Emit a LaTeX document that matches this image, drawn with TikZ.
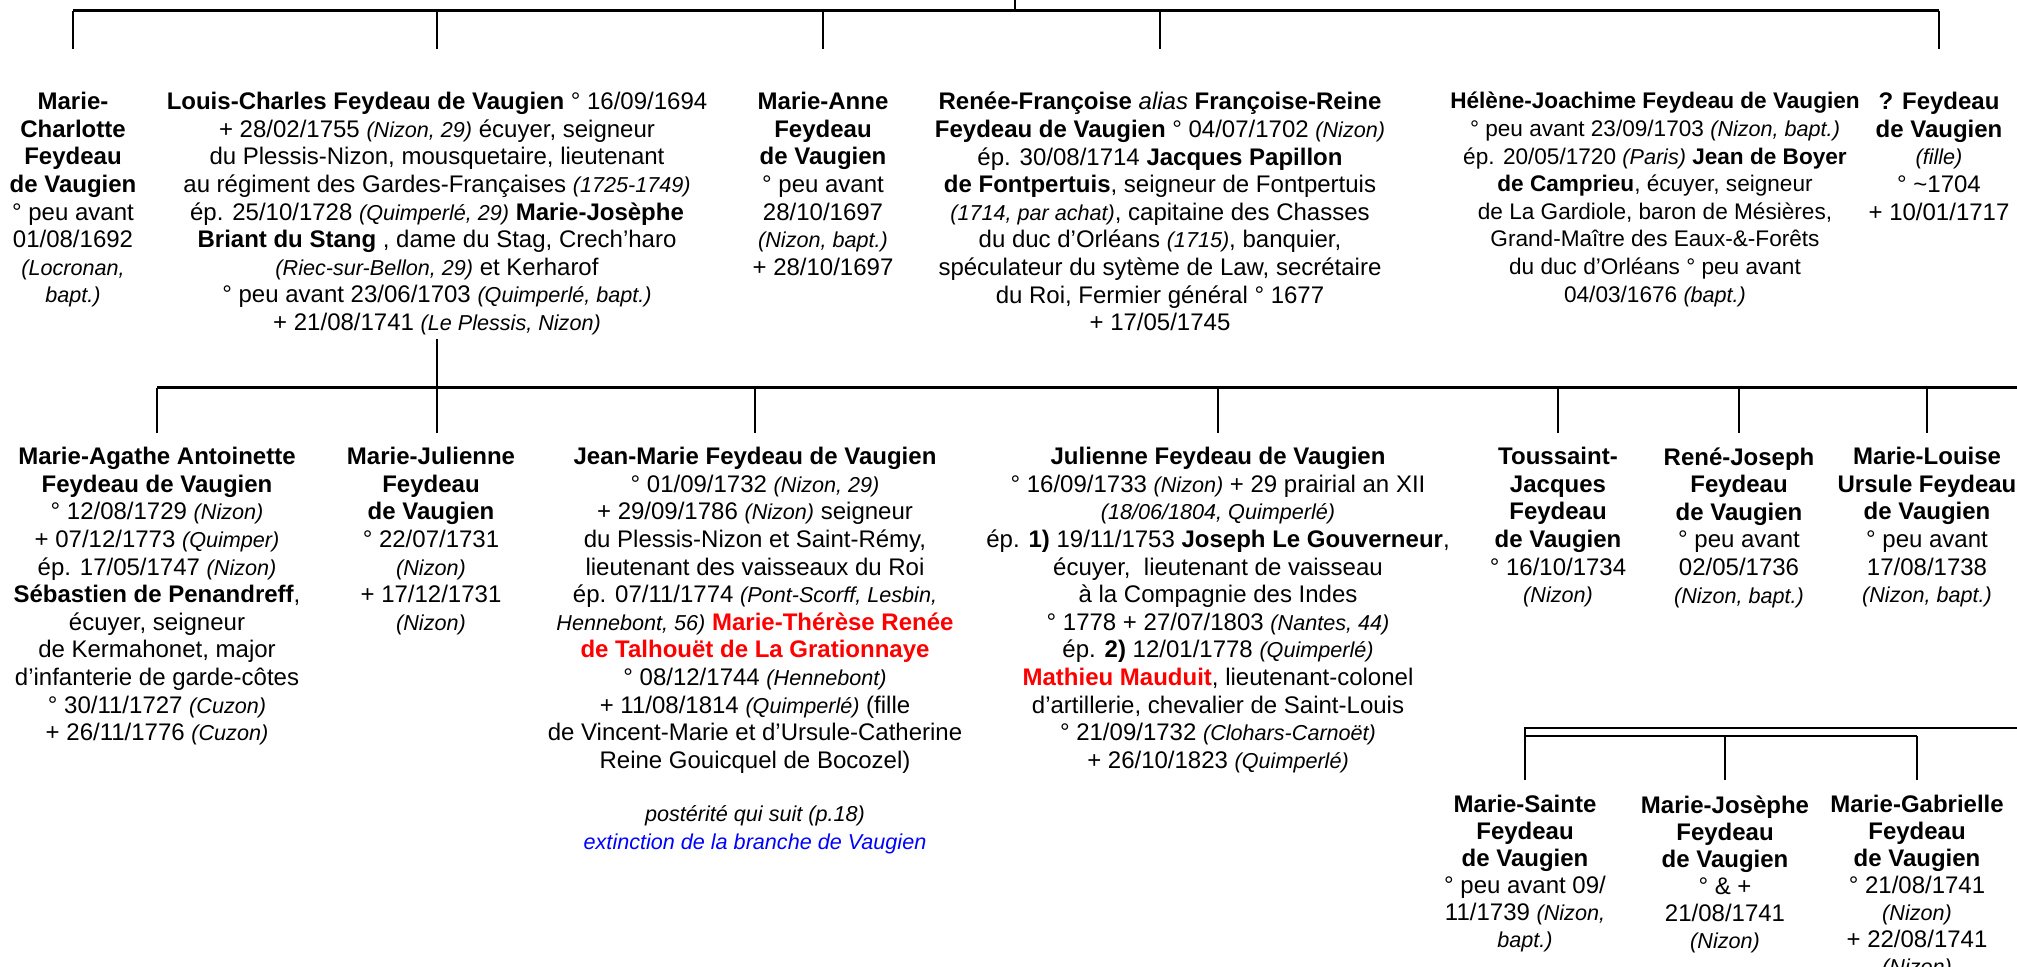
\documentclass[tikz,border=0pt]{standalone}
\usepackage{fontspec}
\setmainfont{Liberation Sans}
\def\lieu#1{{\fontsize{10.8}{13.8}\selectfont\itshape #1}}
\def\rouge#1{\textcolor{red}{\textbf{#1}}}
\def\dtrait{\draw[line width=1pt]}
\def\dbarre{\draw[line width=1.5pt]}

\begin{document}
\begin{tikzpicture}[x=0.5pt,y=-0.5pt,
    pers/.style={align=center,anchor=north,inner sep=0pt,
        font=\fontsize{12}{13.8}\selectfont,execute at begin node=\strut},
    chute/.style={shorten >=#1},chute/.default=7pt]
                \fill[white] (0,0) rectangle (2017,967);
                \useasboundingbox (0,0) rectangle (2017,967);
                \coordinate (parent) at (1015,0);
                \coordinate (rang1) at (0,11);
                \coordinate (rang2) at (2017,388);
                \coordinate (suite) at (2017,728);
                \coordinate (rang3) at (0,736);
                % premiere generation
                \node[pers] (mc) at (73,92) {\textbf{Marie-}\\\textbf{Charlotte}\\\textbf{Feydeau}\\\textbf{de Vaugien}\\° peu avant\\01/08/1692\\\lieu{(Locronan,}\\\lieu{bapt.)}};
                \node[pers] (lc) at (437,92) {\textbf{Louis-Charles Feydeau de Vaugien} ° 16/09/1694\\
                    + 28/02/1755 \lieu{(Nizon, 29)} écuyer, seigneur\\
                    du Plessis-Nizon, mousquetaire, lieutenant\\
                    au régiment des Gardes-Françaises \lieu{(1725-1749)}\\
                    ép. 25/10/1728 \lieu{(Quimperlé, 29)} \textbf{Marie-Josèphe}\\
                    \textbf{Briant du Stang} , dame du Stag, Crech’haro\\
                    \lieu{(Riec-sur-Bellon, 29)} et Kerharof\\
                    ° peu avant 23/06/1703 \lieu{(Quimperlé, bapt.)}\\
                    + 21/08/1741 \lieu{(Le Plessis, Nizon)}};
                \node[pers] (ma) at (823,92) {\textbf{Marie-Anne}\\\textbf{Feydeau}\\\textbf{de Vaugien}\\° peu avant\\28/10/1697\\\lieu{(Nizon, bapt.)}\\+ 28/10/1697};
                \node[pers] (rf) at (1160,92) {\textbf{Renée-Françoise} \textit{alias} \textbf{Françoise-Reine}\\
                    \textbf{Feydeau de Vaugien} ° 04/07/1702 \lieu{(Nizon)}\\
                    ép. 30/08/1714 \textbf{Jacques Papillon}\\
                    \textbf{de Fontpertuis}, seigneur de Fontpertuis\\
                    \lieu{(1714, par achat)}, capitaine des Chasses\\
                    du duc d’Orléans \lieu{(1715)}, banquier,\\
                    spéculateur du sytème de Law, secrétaire\\
                    du Roi, Fermier général ° 1677\\
                    + 17/05/1745};
                \node[pers,font=\fontsize{11.3}{13.8}\selectfont] (hj) at (1655,92) {\textbf{Hélène-Joachime Feydeau de Vaugien}\\
                    ° peu avant 23/09/1703 \lieu{(Nizon, bapt.)}\\
                    ép. 20/05/1720 \lieu{(Paris)} \textbf{Jean de Boyer}\\
                    \textbf{de Camprieu}, écuyer, seigneur\\
                    de La Gardiole, baron de Mésières,\\
                    Grand-Maître des Eaux-\&-Forêts\\
                    du duc d’Orléans ° peu avant\\
                    04/03/1676 \lieu{(bapt.)}};
                \node[pers] (fv) at (1939,92) {\textbf{? Feydeau}\\\textbf{de Vaugien}\\\lieu{(fille)}\\° \textasciitilde1704\\+ 10/01/1717};
                % enfants de Louis-Charles
                \node[pers] (mag) at (157,447) {\textbf{Marie-Agathe Antoinette}\\
                    \textbf{Feydeau de Vaugien}\\
                    ° 12/08/1729 \lieu{(Nizon)}\\
                    + 07/12/1773 \lieu{(Quimper)}\\
                    ép. 17/05/1747 \lieu{(Nizon)}\\
                    \textbf{Sébastien de Penandreff},\\
                    écuyer, seigneur\\
                    de Kermahonet, major\\
                    d’infanterie de garde-côtes\\
                    ° 30/11/1727 \lieu{(Cuzon)}\\
                    + 26/11/1776 \lieu{(Cuzon)}};
                \node[pers] (mj) at (431,447) {\textbf{Marie-Julienne}\\\textbf{Feydeau}\\\textbf{de Vaugien}\\° 22/07/1731\\\lieu{(Nizon)}\\+ 17/12/1731\\\lieu{(Nizon)}};
                \node[pers] (jm) at (755,447) {\textbf{Jean-Marie Feydeau de Vaugien}\\
                    ° 01/09/1732 \lieu{(Nizon, 29)}\\
                    + 29/09/1786 \lieu{(Nizon)} seigneur\\
                    du Plessis-Nizon et Saint-Rémy,\\
                    lieutenant des vaisseaux du Roi\\
                    ép. 07/11/1774 \lieu{(Pont-Scorff, Lesbin,}\\
                    \lieu{Hennebont, 56)} \rouge{Marie-Thérèse Renée}\\
                    \rouge{de Talhouët de La Grationnaye}\\
                    ° 08/12/1744 \lieu{(Hennebont)}\\
                    + 11/08/1814 \lieu{(Quimperlé)} (fille\\
                    de Vincent-Marie et d’Ursule-Catherine\\
                    Reine Gouicquel de Bocozel)\\[13pt]
                    \lieu{postérité qui suit (p.18)}\\
                    \textcolor{blue}{\lieu{extinction de la branche de Vaugien}}};
                \node[pers] (jf) at (1218,447) {\textbf{Julienne Feydeau de Vaugien}\\
                    ° 16/09/1733 \lieu{(Nizon)} + 29 prairial an XII\\
                    \lieu{(18/06/1804, Quimperlé)}\\
                    ép. \textbf{1)} 19/11/1753 \textbf{Joseph Le Gouverneur},\\
                    écuyer,\ \ lieutenant de vaisseau\\
                    à la Compagnie des Indes\\
                    ° 1778 + 27/07/1803 \lieu{(Nantes, 44)}\\
                    ép. \textbf{2)} 12/01/1778 \lieu{(Quimperlé)}\\
                    \rouge{Mathieu Mauduit}, lieutenant-colonel\\
                    d’artillerie, chevalier de Saint-Louis\\
                    ° 21/09/1732 \lieu{(Clohars-Carnoët)}\\
                    + 26/10/1823 \lieu{(Quimperlé)}};
                \node[pers] (tj) at (1558,447) {\textbf{Toussaint-}\\\textbf{Jacques}\\\textbf{Feydeau}\\\textbf{de Vaugien}\\° 16/10/1734\\\lieu{(Nizon)}};
                \node[pers] (rj) at (1739,447) {\textbf{René-Joseph}\\\textbf{Feydeau}\\\textbf{de Vaugien}\\° peu avant\\02/05/1736\\\lieu{(Nizon, bapt.)}};
                \node[pers] (ml) at (1927,447) {\textbf{Marie-Louise}\\\textbf{Ursule Feydeau}\\\textbf{de Vaugien}\\° peu avant\\17/08/1738\\\lieu{(Nizon, bapt.)}};
                % suite, a droite
                \tikzset{pers/.append style={font=\fontsize{12}{13.5}\selectfont}}
                \node[pers] (ms) at (1525,795) {\textbf{Marie-Sainte}\\\textbf{Feydeau}\\\textbf{de Vaugien}\\° peu avant 09/\\11/1739 \lieu{(Nizon,}\\\lieu{bapt.)}};
                \node[pers] (mjo) at (1725,795) {\textbf{Marie-Josèphe}\\\textbf{Feydeau}\\\textbf{de Vaugien}\\° \& +\\21/08/1741\\\lieu{(Nizon)}};
                \node[pers] (mg) at (1917,795) {\textbf{Marie-Gabrielle}\\\textbf{Feydeau}\\\textbf{de Vaugien}\\° 21/08/1741\\\lieu{(Nizon)}\\+ 22/08/1741\\\lieu{(Nizon)}};
                % traits
                \dtrait (parent) -- (parent |- rang1);
                \dbarre (mc.north |- rang1) -- (fv.north |- rang1);
                \dtrait[chute=21.5pt] (mc.north |- rang1) -- (mc.north);
                \dtrait[chute=21.5pt] (lc.north |- rang1) -- (lc.north);
                \dtrait[chute=21.5pt] (ma.north |- rang1) -- (ma.north);
                \dtrait[chute=21.5pt] (rf.north |- rang1) -- (rf.north);
                \dtrait[chute=21.5pt] (fv.north |- rang1) -- (fv.north);
                \dtrait (lc.south) -- (lc.south |- rang2);
                \dbarre (mag.north |- rang2) -- (rang2);
                \dtrait[chute] (mag.north |- rang2) -- (mag.north);
                \dtrait (lc.south |- rang2) -- ++(0,45);
                \dtrait[chute] (jm.north |- rang2) -- (jm.north);
                \dtrait[chute] (jf.north |- rang2) -- (jf.north);
                \dtrait[chute] (tj.north |- rang2) -- (tj.north);
                \dtrait[chute] (rj.north |- rang2) -- (rj.north);
                \dtrait[chute] (ml.north |- rang2) -- (ml.north);
                \dtrait[chute=7.5pt] (suite) -| (ms.north);
                \dtrait (ms.north |- rang3) -- (mg.north |- rang3);
                \dtrait[chute=7.5pt] (mjo.north |- rang3) -- (mjo.north);
                \dtrait[chute=7.5pt] (mg.north |- rang3) -- (mg.north);
            \end{tikzpicture}
\end{document}
